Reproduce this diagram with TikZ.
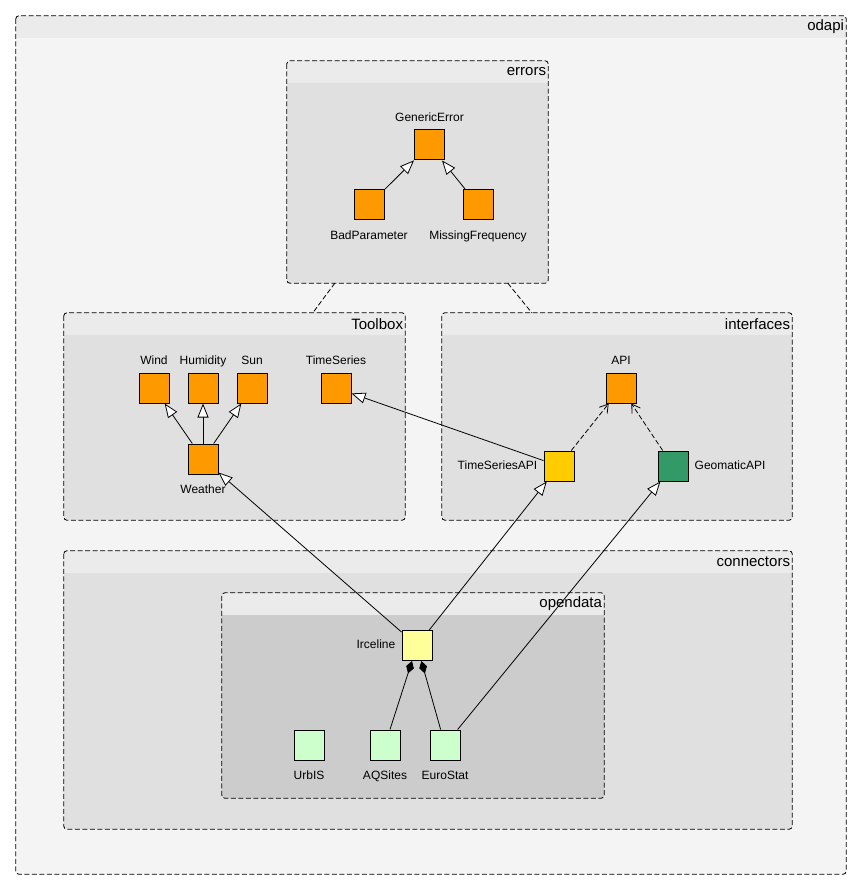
\documentclass[tikz,border=0pt]{standalone}
\usepackage{fontspec}
\setmainfont{Liberation Sans}
\usetikzlibrary{arrows.meta,fit}

\definecolor{orangecls}{HTML}{FF9900}
\definecolor{goldcls}{HTML}{FFCC00}
\definecolor{greencls}{HTML}{339966}
\definecolor{yellowcls}{HTML}{FFFF99}
\definecolor{mintcls}{HTML}{CCFFCC}
\definecolor{pkghead}{HTML}{EBEBEB}
\definecolor{pkgouter}{HTML}{F4F4F4}
\definecolor{pkgmid}{HTML}{E0E0E0}
\definecolor{pkginner}{HTML}{CCCCCC}

\tikzset{
  cls/.style={draw, line width=1pt, minimum size=30pt, inner sep=0pt, fill=#1},
  lbl/.style={font=\fontsize{12}{14}\selectfont, inner sep=0pt, text height=8.5pt, text depth=2.5pt},
  lblup/.style={label={[lbl,label distance=5pt]above:#1}},
  lbldn/.style={label={[lbl,label distance=10.5pt]below:#1}},
  lblleft/.style={label={[lbl,label distance=6pt]left:#1}},
  lblright/.style={label={[lbl,label distance=6pt]right:#1}},
  pkgtitle/.style={font=\fontsize{15}{18}\selectfont, inner sep=0pt, anchor=east},
  pkgborder/.style={draw, line width=0.8pt, dash pattern=on 5pt off 2.5pt, rounded corners=3pt},
  pkglink/.style={line width=0.8pt, dash pattern=on 5pt off 2.5pt},
  inherit/.style={line width=0.8pt, -{Triangle[fill=white,length=14pt,width=11pt]}},
  realize/.style={line width=0.8pt, dash pattern=on 5pt off 2.5pt, -{Straight Barb[length=8pt,width=10pt]}},
  compose/.style={line width=0.8pt, -{Diamond[length=13pt,width=8pt]}},
}

% package frame: name, x1, y1, x2, y2, body colour, title
\newcommand\pkgframe[7]{%
  \node[fit={(#2,#3) (#4,#5)}, inner sep=0pt, name=#1] {};
  \fill[#6, rounded corners=3pt] (#1.north west) rectangle (#1.south east);
  \begin{scope}
    \clip[rounded corners=3pt] (#1.north west) rectangle (#1.south east);
    \fill[pkghead] (#1.north west) rectangle ([yshift=-22pt]#1.north east);
  \end{scope}
  \node[pkgtitle] at ([xshift=-2pt,yshift=-11pt]#1.north east) {#7};
  \draw[pkgborder] (#1.north west) rectangle (#1.south east);
}

\begin{document}
\begin{tikzpicture}[x=1pt,y=-1pt]
\useasboundingbox[fill=white] (0,0) rectangle (862,890);

% packages
\pkgframe{odapi}{16}{16}{846}{874}{pkgouter}{odapi}
\pkgframe{errors}{287}{61}{548}{283}{pkgmid}{errors}
\pkgframe{toolbox}{64}{313}{405}{520}{pkgmid}{Toolbox}
\pkgframe{interfaces}{442}{313}{792}{520}{pkgmid}{interfaces}
\pkgframe{connectors}{64}{551}{792}{829}{pkgmid}{connectors}
\pkgframe{opendata}{222}{593}{604}{798}{pkginner}{opendata}

% package dependencies
\draw[pkglink] ([xshift=48pt]errors.south west) -- ([xshift=249pt]toolbox.north west);
\draw[pkglink] ([xshift=221pt]errors.south west) -- ([xshift=90pt]interfaces.north west);

% errors
\node[cls=orangecls, lblup=GenericError] (generr) at (429.5,145) {};
\node[cls=orangecls, lbldn=BadParameter] (badpar) at (369,205) {};
\node[cls=orangecls, lbldn=MissingFrequency] (missfreq) at (478,205) {};

% Toolbox
\node[cls=orangecls, lblup=Wind] (wind) at (154,388) {};
\node[cls=orangecls, lblup=Humidity] (humid) at (203,388) {};
\node[cls=orangecls, lblup=Sun] (sun) at (252,388) {};
\node[cls=orangecls, lblup=TimeSeries] (tseries) at (336,388) {};
\node[cls=orangecls, lbldn=Weather] (weather) at (203,459) {};

% interfaces
\node[cls=orangecls, lblup=API] (api) at (621,388) {};
\node[cls=goldcls, lblleft=TimeSeriesAPI] (tsapi) at (559,466) {};
\node[cls=greencls, lblright=GeomaticAPI] (geoapi) at (673,466) {};

% opendata
\node[cls=yellowcls, lblleft=Irceline] (irceline) at (417,645.5) {};
\node[cls=mintcls, lbldn=UrbIS] (urbis) at (309,745) {};
\node[cls=mintcls, lbldn=AQSites] (aqsites) at (385,745) {};
\node[cls=mintcls, lbldn=EuroStat] (eurostat) at (445,745) {};

% relations
\draw[inherit] (badpar) -- (generr);
\draw[inherit] (missfreq) -- (generr);
\draw[inherit] (weather) -- (wind);
\draw[inherit] (weather) -- (humid);
\draw[inherit] (weather) -- (sun);
\draw[inherit] (tsapi) -- (tseries);
\draw[realize] (tsapi) -- (api);
\draw[realize] (geoapi) -- (api);
\draw[inherit] (irceline) -- (weather);
\draw[inherit] (irceline) -- (tsapi);
\draw[inherit] (eurostat) -- (geoapi);
\draw[compose] (aqsites) -- (irceline);
\draw[compose] (eurostat) -- (irceline);
\end{tikzpicture}
\end{document}
